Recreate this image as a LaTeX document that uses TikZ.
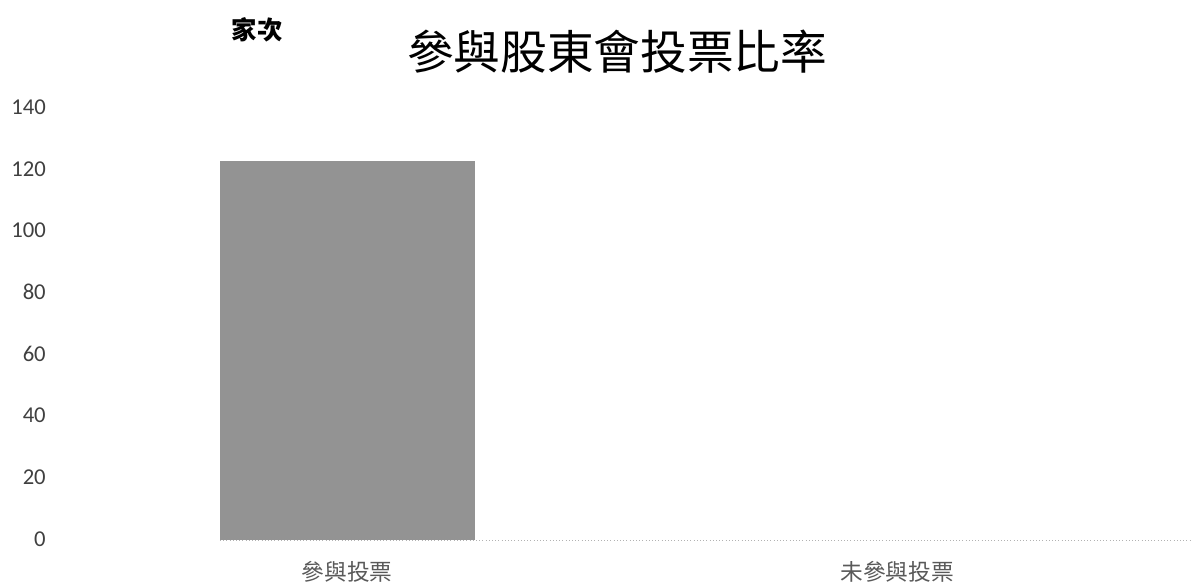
\documentclass[tikz,border=0pt]{standalone}
\usepackage{fontspec}
\setmainfont{Carlito}
\newfontfamily\cjk{Noto Sans CJK TC}
\usetikzlibrary{positioning}
\def\ticknode{\node[anchor=east,text=black!75,font=\fontsize{17}{17}\selectfont]}
\def\catnode{\node[text=black!65,font=\cjk\fontsize{17}{17}\selectfont]}

\begin{document}
\begin{tikzpicture}[x=0.75pt,y=-0.75pt,inner sep=0pt]
\useasboundingbox (0,0) rectangle (1195,587);
\node[font=\cjk\bfseries\fontsize{19}{19}\selectfont] (unit) at (257,30) {家次};
\node[font=\cjk\fontsize{35}{35}\selectfont] (title) at (617,52) {參與股東會投票比率};
\foreach \v [count=\i from 0] in {0,20,...,140}
  \ticknode (tick\i) at (46,{539-61.7*\i}) {\v};
\fill[gray!85] (220,161) rectangle (475,540);
\coordinate (axisL) at (220,540);
\coordinate (axisR) at (1192,540);
\draw[gray!60,dotted] (axisL) -- (axisR);
\catnode (voted) at (347,572) {參與投票};
\catnode (novote) at (897,572) {未參與投票};
\end{tikzpicture}
\end{document}
